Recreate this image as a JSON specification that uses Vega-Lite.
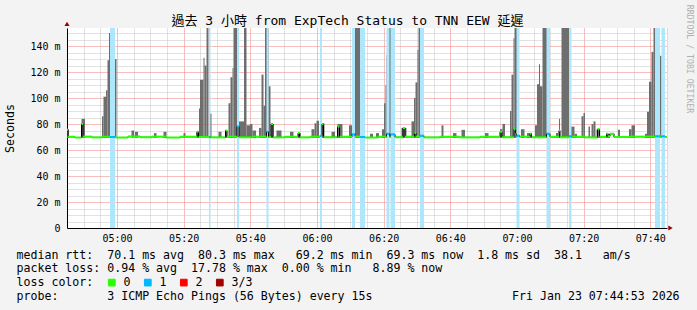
{
  "$schema": "https://vega.github.io/schema/vega-lite/v6.json",
  "width": 600,
  "height": 200,
  "autosize": {"type": "none"},
  "padding": {"left": 67, "top": 28, "right": 30, "bottom": 82},
  "background": "#f3f3f3",
  "config": {"view": {"fill": "#ffffff", "stroke": null}, "font": "DejaVu Sans Mono"},
  "title": {
    "text": "過去 3 小時 from ExpTech Status to TNN EEW 延遲",
    "font": "DejaVu Sans Mono, Noto Sans CJK TC",
    "fontSize": 13,
    "fontWeight": "normal",
    "color": "#000000",
    "anchor": "middle",
    "dx": -19.5,
    "dy": 27,
    "offset": 3
  },
  "datasets": {
    "bands": [
      {"t0": "2026-01-23T04:57:54", "t1": "2026-01-23T04:59:24"},
      {"t0": "2026-01-23T05:27:36", "t1": "2026-01-23T05:28:03"},
      {"t0": "2026-01-23T05:36:00", "t1": "2026-01-23T05:36:36"},
      {"t0": "2026-01-23T05:44:51", "t1": "2026-01-23T05:45:27"},
      {"t0": "2026-01-23T06:00:54", "t1": "2026-01-23T06:01:30"},
      {"t0": "2026-01-23T06:10:30", "t1": "2026-01-23T06:11:24"},
      {"t0": "2026-01-23T06:12:54", "t1": "2026-01-23T06:14:24"},
      {"t0": "2026-01-23T06:20:51", "t1": "2026-01-23T06:21:45"},
      {"t0": "2026-01-23T06:22:03", "t1": "2026-01-23T06:23:24"},
      {"t0": "2026-01-23T06:30:54", "t1": "2026-01-23T06:32:06"},
      {"t0": "2026-01-23T06:59:51", "t1": "2026-01-23T07:00:45"},
      {"t0": "2026-01-23T07:08:51", "t1": "2026-01-23T07:09:54"},
      {"t0": "2026-01-23T07:15:36", "t1": "2026-01-23T07:16:21"},
      {"t0": "2026-01-23T07:41:24", "t1": "2026-01-23T07:42:54"},
      {"t0": "2026-01-23T07:43:21", "t1": "2026-01-23T07:44:24"}
    ],
    "smoke": [
      {"t0": "2026-01-23T04:45:00", "t1": "2026-01-23T04:45:36", "lo": 69.3, "hi": 76},
      {"t0": "2026-01-23T04:49:21", "t1": "2026-01-23T04:50:24", "lo": 69.3, "hi": 84},
      {"t0": "2026-01-23T04:55:30", "t1": "2026-01-23T04:55:57", "lo": 69.3, "hi": 86},
      {"t0": "2026-01-23T04:55:57", "t1": "2026-01-23T04:56:42", "lo": 69.3, "hi": 101},
      {"t0": "2026-01-23T04:56:42", "t1": "2026-01-23T04:57:09", "lo": 69.3, "hi": 106},
      {"t0": "2026-01-23T04:57:09", "t1": "2026-01-23T04:57:36", "lo": 69.3, "hi": 129},
      {"t0": "2026-01-23T04:57:36", "t1": "2026-01-23T04:57:54", "lo": 69.3, "hi": 150},
      {"t0": "2026-01-23T04:57:54", "t1": "2026-01-23T04:59:15", "lo": 69.3, "hi": 160},
      {"t0": "2026-01-23T04:59:15", "t1": "2026-01-23T04:59:51", "lo": 69.3, "hi": 130},
      {"t0": "2026-01-23T05:04:21", "t1": "2026-01-23T05:05:06", "lo": 69.3, "hi": 75},
      {"t0": "2026-01-23T05:05:24", "t1": "2026-01-23T05:06:18", "lo": 69.3, "hi": 74},
      {"t0": "2026-01-23T05:11:06", "t1": "2026-01-23T05:11:51", "lo": 69.3, "hi": 73},
      {"t0": "2026-01-23T05:13:57", "t1": "2026-01-23T05:14:51", "lo": 69.3, "hi": 74},
      {"t0": "2026-01-23T05:19:57", "t1": "2026-01-23T05:20:33", "lo": 69.3, "hi": 73},
      {"t0": "2026-01-23T05:23:51", "t1": "2026-01-23T05:24:27", "lo": 69.3, "hi": 74},
      {"t0": "2026-01-23T05:24:36", "t1": "2026-01-23T05:24:54", "lo": 69.3, "hi": 92},
      {"t0": "2026-01-23T05:24:54", "t1": "2026-01-23T05:25:57", "lo": 69.3, "hi": 114},
      {"t0": "2026-01-23T05:25:57", "t1": "2026-01-23T05:26:15", "lo": 69.3, "hi": 131},
      {"t0": "2026-01-23T05:26:15", "t1": "2026-01-23T05:26:51", "lo": 69.3, "hi": 125},
      {"t0": "2026-01-23T05:26:51", "t1": "2026-01-23T05:27:27", "lo": 69.3, "hi": 160},
      {"t0": "2026-01-23T05:27:45", "t1": "2026-01-23T05:28:21", "lo": 69.3, "hi": 88},
      {"t0": "2026-01-23T05:30:27", "t1": "2026-01-23T05:31:21", "lo": 69.3, "hi": 74},
      {"t0": "2026-01-23T05:32:24", "t1": "2026-01-23T05:33:00", "lo": 69.3, "hi": 75},
      {"t0": "2026-01-23T05:33:27", "t1": "2026-01-23T05:34:03", "lo": 69.3, "hi": 96},
      {"t0": "2026-01-23T05:34:03", "t1": "2026-01-23T05:34:39", "lo": 69.3, "hi": 116},
      {"t0": "2026-01-23T05:34:39", "t1": "2026-01-23T05:34:57", "lo": 69.3, "hi": 123},
      {"t0": "2026-01-23T05:34:57", "t1": "2026-01-23T05:36:36", "lo": 69.3, "hi": 160},
      {"t0": "2026-01-23T05:36:36", "t1": "2026-01-23T05:38:06", "lo": 69.3, "hi": 82},
      {"t0": "2026-01-23T05:38:06", "t1": "2026-01-23T05:38:51", "lo": 69.3, "hi": 160},
      {"t0": "2026-01-23T05:38:51", "t1": "2026-01-23T05:39:54", "lo": 69.3, "hi": 79},
      {"t0": "2026-01-23T05:39:54", "t1": "2026-01-23T05:40:39", "lo": 69.3, "hi": 80},
      {"t0": "2026-01-23T05:40:39", "t1": "2026-01-23T05:41:42", "lo": 69.3, "hi": 75},
      {"t0": "2026-01-23T05:42:36", "t1": "2026-01-23T05:43:21", "lo": 69.3, "hi": 77},
      {"t0": "2026-01-23T05:43:21", "t1": "2026-01-23T05:43:57", "lo": 69.3, "hi": 118},
      {"t0": "2026-01-23T05:43:57", "t1": "2026-01-23T05:44:24", "lo": 69.3, "hi": 94},
      {"t0": "2026-01-23T05:44:24", "t1": "2026-01-23T05:45:27", "lo": 69.3, "hi": 160},
      {"t0": "2026-01-23T05:45:27", "t1": "2026-01-23T05:46:03", "lo": 69.3, "hi": 109},
      {"t0": "2026-01-23T05:46:12", "t1": "2026-01-23T05:46:57", "lo": 69.3, "hi": 80},
      {"t0": "2026-01-23T05:47:51", "t1": "2026-01-23T05:49:21", "lo": 69.3, "hi": 75},
      {"t0": "2026-01-23T05:51:54", "t1": "2026-01-23T05:52:57", "lo": 69.3, "hi": 74},
      {"t0": "2026-01-23T05:54:18", "t1": "2026-01-23T05:55:12", "lo": 69.3, "hi": 73},
      {"t0": "2026-01-23T05:58:21", "t1": "2026-01-23T05:59:15", "lo": 69.3, "hi": 76},
      {"t0": "2026-01-23T05:59:15", "t1": "2026-01-23T05:59:51", "lo": 69.3, "hi": 80.5},
      {"t0": "2026-01-23T05:59:51", "t1": "2026-01-23T06:00:36", "lo": 69.3, "hi": 82.5},
      {"t0": "2026-01-23T06:01:21", "t1": "2026-01-23T06:02:15", "lo": 69.3, "hi": 80.5},
      {"t0": "2026-01-23T06:04:21", "t1": "2026-01-23T06:05:24", "lo": 69.3, "hi": 74},
      {"t0": "2026-01-23T06:06:09", "t1": "2026-01-23T06:07:39", "lo": 69.3, "hi": 80},
      {"t0": "2026-01-23T06:09:36", "t1": "2026-01-23T06:10:30", "lo": 69.3, "hi": 79},
      {"t0": "2026-01-23T06:10:48", "t1": "2026-01-23T06:12:54", "lo": 69.3, "hi": 160},
      {"t0": "2026-01-23T06:12:54", "t1": "2026-01-23T06:13:30", "lo": 69.3, "hi": 120},
      {"t0": "2026-01-23T06:15:54", "t1": "2026-01-23T06:16:48", "lo": 69.3, "hi": 72.5},
      {"t0": "2026-01-23T06:17:42", "t1": "2026-01-23T06:18:36", "lo": 69.3, "hi": 73},
      {"t0": "2026-01-23T06:19:30", "t1": "2026-01-23T06:20:06", "lo": 69.3, "hi": 76},
      {"t0": "2026-01-23T06:20:06", "t1": "2026-01-23T06:20:33", "lo": 69.3, "hi": 96},
      {"t0": "2026-01-23T06:20:33", "t1": "2026-01-23T06:20:51", "lo": 69.3, "hi": 110},
      {"t0": "2026-01-23T06:20:51", "t1": "2026-01-23T06:21:09", "lo": 69.3, "hi": 133},
      {"t0": "2026-01-23T06:21:09", "t1": "2026-01-23T06:22:12", "lo": 69.3, "hi": 160},
      {"t0": "2026-01-23T06:22:12", "t1": "2026-01-23T06:22:48", "lo": 69.3, "hi": 128},
      {"t0": "2026-01-23T06:25:21", "t1": "2026-01-23T06:26:51", "lo": 69.3, "hi": 77},
      {"t0": "2026-01-23T06:28:21", "t1": "2026-01-23T06:29:06", "lo": 69.3, "hi": 82},
      {"t0": "2026-01-23T06:29:06", "t1": "2026-01-23T06:29:33", "lo": 69.3, "hi": 100},
      {"t0": "2026-01-23T06:29:33", "t1": "2026-01-23T06:30:09", "lo": 69.3, "hi": 112},
      {"t0": "2026-01-23T06:30:09", "t1": "2026-01-23T06:30:27", "lo": 69.3, "hi": 137},
      {"t0": "2026-01-23T06:30:27", "t1": "2026-01-23T06:31:03", "lo": 69.3, "hi": 160},
      {"t0": "2026-01-23T06:31:03", "t1": "2026-01-23T06:31:21", "lo": 69.3, "hi": 137},
      {"t0": "2026-01-23T06:37:21", "t1": "2026-01-23T06:37:57", "lo": 69.3, "hi": 79},
      {"t0": "2026-01-23T06:40:48", "t1": "2026-01-23T06:41:51", "lo": 69.3, "hi": 73},
      {"t0": "2026-01-23T06:43:21", "t1": "2026-01-23T06:44:24", "lo": 69.3, "hi": 75.5},
      {"t0": "2026-01-23T06:50:24", "t1": "2026-01-23T06:51:27", "lo": 69.3, "hi": 73},
      {"t0": "2026-01-23T06:54:54", "t1": "2026-01-23T06:55:39", "lo": 69.3, "hi": 76},
      {"t0": "2026-01-23T06:55:39", "t1": "2026-01-23T06:56:24", "lo": 69.3, "hi": 80},
      {"t0": "2026-01-23T06:57:54", "t1": "2026-01-23T06:58:21", "lo": 69.3, "hi": 90},
      {"t0": "2026-01-23T06:58:21", "t1": "2026-01-23T06:58:57", "lo": 69.3, "hi": 118},
      {"t0": "2026-01-23T06:58:57", "t1": "2026-01-23T06:59:15", "lo": 69.3, "hi": 146},
      {"t0": "2026-01-23T06:59:15", "t1": "2026-01-23T07:00:27", "lo": 69.3, "hi": 160},
      {"t0": "2026-01-23T07:01:12", "t1": "2026-01-23T07:02:15", "lo": 69.3, "hi": 76},
      {"t0": "2026-01-23T07:03:00", "t1": "2026-01-23T07:04:30", "lo": 69.3, "hi": 73},
      {"t0": "2026-01-23T07:05:24", "t1": "2026-01-23T07:06:00", "lo": 69.3, "hi": 79},
      {"t0": "2026-01-23T07:06:00", "t1": "2026-01-23T07:06:36", "lo": 69.3, "hi": 110.5},
      {"t0": "2026-01-23T07:06:36", "t1": "2026-01-23T07:06:54", "lo": 69.3, "hi": 126},
      {"t0": "2026-01-23T07:06:54", "t1": "2026-01-23T07:07:39", "lo": 69.3, "hi": 109},
      {"t0": "2026-01-23T07:07:39", "t1": "2026-01-23T07:09:54", "lo": 69.3, "hi": 160},
      {"t0": "2026-01-23T07:11:42", "t1": "2026-01-23T07:12:18", "lo": 69.3, "hi": 73},
      {"t0": "2026-01-23T07:12:36", "t1": "2026-01-23T07:12:54", "lo": 69.3, "hi": 84},
      {"t0": "2026-01-23T07:13:21", "t1": "2026-01-23T07:15:54", "lo": 69.3, "hi": 160},
      {"t0": "2026-01-23T07:15:54", "t1": "2026-01-23T07:17:15", "lo": 69.3, "hi": 78},
      {"t0": "2026-01-23T07:17:15", "t1": "2026-01-23T07:18:00", "lo": 69.3, "hi": 72.5},
      {"t0": "2026-01-23T07:19:21", "t1": "2026-01-23T07:19:57", "lo": 69.3, "hi": 86},
      {"t0": "2026-01-23T07:19:57", "t1": "2026-01-23T07:20:24", "lo": 69.3, "hi": 88.5},
      {"t0": "2026-01-23T07:21:27", "t1": "2026-01-23T07:21:54", "lo": 69.3, "hi": 78},
      {"t0": "2026-01-23T07:22:21", "t1": "2026-01-23T07:22:57", "lo": 69.3, "hi": 80},
      {"t0": "2026-01-23T07:22:57", "t1": "2026-01-23T07:23:33", "lo": 69.3, "hi": 82},
      {"t0": "2026-01-23T07:23:51", "t1": "2026-01-23T07:24:54", "lo": 69.3, "hi": 76},
      {"t0": "2026-01-23T07:26:42", "t1": "2026-01-23T07:27:54", "lo": 69.3, "hi": 72.5},
      {"t0": "2026-01-23T07:30:18", "t1": "2026-01-23T07:30:54", "lo": 69.3, "hi": 75.5},
      {"t0": "2026-01-23T07:33:36", "t1": "2026-01-23T07:34:21", "lo": 69.3, "hi": 76},
      {"t0": "2026-01-23T07:34:21", "t1": "2026-01-23T07:35:24", "lo": 69.3, "hi": 79},
      {"t0": "2026-01-23T07:38:24", "t1": "2026-01-23T07:39:00", "lo": 69.3, "hi": 72.5},
      {"t0": "2026-01-23T07:39:00", "t1": "2026-01-23T07:39:36", "lo": 69.3, "hi": 89.5},
      {"t0": "2026-01-23T07:39:36", "t1": "2026-01-23T07:40:21", "lo": 69.3, "hi": 112.5},
      {"t0": "2026-01-23T07:40:21", "t1": "2026-01-23T07:40:57", "lo": 69.3, "hi": 135.5},
      {"t0": "2026-01-23T07:40:57", "t1": "2026-01-23T07:42:54", "lo": 69.3, "hi": 160},
      {"t0": "2026-01-23T07:42:54", "t1": "2026-01-23T07:43:21", "lo": 69.3, "hi": 132.5}
    ],
    "median": [
      {"t0": "2026-01-23T04:45:00", "t1": "2026-01-23T04:45:18", "v": 75.5, "loss": "0"},
      {"t0": "2026-01-23T04:45:18", "t1": "2026-01-23T04:47:24", "v": 70.2, "loss": "0"},
      {"t0": "2026-01-23T04:47:24", "t1": "2026-01-23T04:49:21", "v": 69.6, "loss": "0"},
      {"t0": "2026-01-23T04:49:21", "t1": "2026-01-23T04:49:48", "v": 80, "loss": "0"},
      {"t0": "2026-01-23T04:49:48", "t1": "2026-01-23T04:52:30", "v": 70.3, "loss": "0"},
      {"t0": "2026-01-23T04:52:30", "t1": "2026-01-23T04:55:30", "v": 69.7, "loss": "0"},
      {"t0": "2026-01-23T04:55:30", "t1": "2026-01-23T04:57:54", "v": 70.2, "loss": "0"},
      {"t0": "2026-01-23T04:57:54", "t1": "2026-01-23T04:59:24", "v": 70.0, "loss": "1"},
      {"t0": "2026-01-23T04:59:24", "t1": "2026-01-23T05:03:18", "v": 69.6, "loss": "0"},
      {"t0": "2026-01-23T05:03:18", "t1": "2026-01-23T05:06:54", "v": 70.4, "loss": "0"},
      {"t0": "2026-01-23T05:06:54", "t1": "2026-01-23T05:10:30", "v": 69.8, "loss": "0"},
      {"t0": "2026-01-23T05:10:30", "t1": "2026-01-23T05:14:42", "v": 70.3, "loss": "0"},
      {"t0": "2026-01-23T05:14:42", "t1": "2026-01-23T05:18:54", "v": 69.6, "loss": "0"},
      {"t0": "2026-01-23T05:18:54", "t1": "2026-01-23T05:24:00", "v": 70.2, "loss": "0"},
      {"t0": "2026-01-23T05:24:00", "t1": "2026-01-23T05:24:27", "v": 74, "loss": "0"},
      {"t0": "2026-01-23T05:24:27", "t1": "2026-01-23T05:27:36", "v": 70.0, "loss": "0"},
      {"t0": "2026-01-23T05:27:36", "t1": "2026-01-23T05:28:03", "v": 70.0, "loss": "1"},
      {"t0": "2026-01-23T05:28:03", "t1": "2026-01-23T05:32:33", "v": 69.7, "loss": "0"},
      {"t0": "2026-01-23T05:32:33", "t1": "2026-01-23T05:33:00", "v": 75, "loss": "0"},
      {"t0": "2026-01-23T05:33:00", "t1": "2026-01-23T05:36:00", "v": 70.2, "loss": "0"},
      {"t0": "2026-01-23T05:36:00", "t1": "2026-01-23T05:36:36", "v": 78, "loss": "1"},
      {"t0": "2026-01-23T05:36:36", "t1": "2026-01-23T05:40:30", "v": 69.8, "loss": "0"},
      {"t0": "2026-01-23T05:40:30", "t1": "2026-01-23T05:44:51", "v": 70.3, "loss": "0"},
      {"t0": "2026-01-23T05:44:51", "t1": "2026-01-23T05:45:27", "v": 74, "loss": "1"},
      {"t0": "2026-01-23T05:45:27", "t1": "2026-01-23T05:46:12", "v": 70.0, "loss": "0"},
      {"t0": "2026-01-23T05:46:12", "t1": "2026-01-23T05:46:48", "v": 80, "loss": "0"},
      {"t0": "2026-01-23T05:46:48", "t1": "2026-01-23T05:50:24", "v": 69.7, "loss": "0"},
      {"t0": "2026-01-23T05:50:24", "t1": "2026-01-23T05:54:18", "v": 70.2, "loss": "0"},
      {"t0": "2026-01-23T05:54:18", "t1": "2026-01-23T05:54:45", "v": 73, "loss": "0"},
      {"t0": "2026-01-23T05:54:45", "t1": "2026-01-23T05:57:54", "v": 69.7, "loss": "0"},
      {"t0": "2026-01-23T05:57:54", "t1": "2026-01-23T06:00:54", "v": 70.2, "loss": "0"},
      {"t0": "2026-01-23T06:00:54", "t1": "2026-01-23T06:01:30", "v": 71, "loss": "1"},
      {"t0": "2026-01-23T06:01:30", "t1": "2026-01-23T06:01:57", "v": 80, "loss": "0"},
      {"t0": "2026-01-23T06:01:57", "t1": "2026-01-23T06:06:09", "v": 69.8, "loss": "0"},
      {"t0": "2026-01-23T06:06:09", "t1": "2026-01-23T06:06:45", "v": 78, "loss": "0"},
      {"t0": "2026-01-23T06:06:45", "t1": "2026-01-23T06:10:30", "v": 70.2, "loss": "0"},
      {"t0": "2026-01-23T06:10:30", "t1": "2026-01-23T06:11:24", "v": 72, "loss": "1"},
      {"t0": "2026-01-23T06:11:24", "t1": "2026-01-23T06:12:54", "v": 70.4, "loss": "0"},
      {"t0": "2026-01-23T06:12:54", "t1": "2026-01-23T06:14:24", "v": 70.0, "loss": "1"},
      {"t0": "2026-01-23T06:14:24", "t1": "2026-01-23T06:18:18", "v": 69.6, "loss": "0"},
      {"t0": "2026-01-23T06:18:18", "t1": "2026-01-23T06:20:51", "v": 70.2, "loss": "0"},
      {"t0": "2026-01-23T06:20:51", "t1": "2026-01-23T06:21:45", "v": 72.5, "loss": "1"},
      {"t0": "2026-01-23T06:21:45", "t1": "2026-01-23T06:22:03", "v": 70.5, "loss": "0"},
      {"t0": "2026-01-23T06:22:03", "t1": "2026-01-23T06:23:24", "v": 72, "loss": "1"},
      {"t0": "2026-01-23T06:23:24", "t1": "2026-01-23T06:25:48", "v": 69.8, "loss": "0"},
      {"t0": "2026-01-23T06:25:48", "t1": "2026-01-23T06:26:24", "v": 77, "loss": "0"},
      {"t0": "2026-01-23T06:26:24", "t1": "2026-01-23T06:29:15", "v": 70.2, "loss": "0"},
      {"t0": "2026-01-23T06:29:15", "t1": "2026-01-23T06:29:42", "v": 73, "loss": "0"},
      {"t0": "2026-01-23T06:29:42", "t1": "2026-01-23T06:30:54", "v": 70.3, "loss": "0"},
      {"t0": "2026-01-23T06:30:54", "t1": "2026-01-23T06:32:06", "v": 71, "loss": "1"},
      {"t0": "2026-01-23T06:32:06", "t1": "2026-01-23T06:36:54", "v": 69.7, "loss": "0"},
      {"t0": "2026-01-23T06:36:54", "t1": "2026-01-23T06:42:54", "v": 70.2, "loss": "0"},
      {"t0": "2026-01-23T06:42:54", "t1": "2026-01-23T06:48:54", "v": 69.7, "loss": "0"},
      {"t0": "2026-01-23T06:48:54", "t1": "2026-01-23T06:54:54", "v": 70.2, "loss": "0"},
      {"t0": "2026-01-23T06:54:54", "t1": "2026-01-23T06:55:30", "v": 74, "loss": "0"},
      {"t0": "2026-01-23T06:55:30", "t1": "2026-01-23T06:59:06", "v": 69.8, "loss": "0"},
      {"t0": "2026-01-23T06:59:06", "t1": "2026-01-23T06:59:33", "v": 76, "loss": "0"},
      {"t0": "2026-01-23T06:59:33", "t1": "2026-01-23T06:59:51", "v": 72.5, "loss": "0"},
      {"t0": "2026-01-23T06:59:51", "t1": "2026-01-23T07:00:45", "v": 71, "loss": "1"},
      {"t0": "2026-01-23T07:00:45", "t1": "2026-01-23T07:03:54", "v": 70.3, "loss": "0"},
      {"t0": "2026-01-23T07:03:54", "t1": "2026-01-23T07:04:21", "v": 72.5, "loss": "0"},
      {"t0": "2026-01-23T07:04:21", "t1": "2026-01-23T07:08:51", "v": 69.8, "loss": "0"},
      {"t0": "2026-01-23T07:08:51", "t1": "2026-01-23T07:09:54", "v": 72.5, "loss": "1"},
      {"t0": "2026-01-23T07:09:54", "t1": "2026-01-23T07:12:36", "v": 70.2, "loss": "0"},
      {"t0": "2026-01-23T07:12:36", "t1": "2026-01-23T07:12:54", "v": 75, "loss": "0"},
      {"t0": "2026-01-23T07:12:54", "t1": "2026-01-23T07:15:36", "v": 69.8, "loss": "0"},
      {"t0": "2026-01-23T07:15:36", "t1": "2026-01-23T07:16:21", "v": 70.5, "loss": "1"},
      {"t0": "2026-01-23T07:16:21", "t1": "2026-01-23T07:20:24", "v": 70.2, "loss": "0"},
      {"t0": "2026-01-23T07:20:24", "t1": "2026-01-23T07:24:09", "v": 69.7, "loss": "0"},
      {"t0": "2026-01-23T07:24:09", "t1": "2026-01-23T07:24:45", "v": 76, "loss": "0"},
      {"t0": "2026-01-23T07:24:45", "t1": "2026-01-23T07:26:51", "v": 70.2, "loss": "0"},
      {"t0": "2026-01-23T07:26:51", "t1": "2026-01-23T07:27:18", "v": 72.5, "loss": "0"},
      {"t0": "2026-01-23T07:27:18", "t1": "2026-01-23T07:27:54", "v": 70.5, "loss": "0"},
      {"t0": "2026-01-23T07:27:54", "t1": "2026-01-23T07:29:06", "v": 72.5, "loss": "0"},
      {"t0": "2026-01-23T07:29:06", "t1": "2026-01-23T07:33:54", "v": 70.0, "loss": "0"},
      {"t0": "2026-01-23T07:33:54", "t1": "2026-01-23T07:41:24", "v": 70.3, "loss": "0"},
      {"t0": "2026-01-23T07:41:24", "t1": "2026-01-23T07:42:54", "v": 70.5, "loss": "1"},
      {"t0": "2026-01-23T07:42:54", "t1": "2026-01-23T07:43:21", "v": 70.3, "loss": "0"},
      {"t0": "2026-01-23T07:43:21", "t1": "2026-01-23T07:44:24", "v": 70.5, "loss": "1"},
      {"t0": "2026-01-23T07:44:24", "t1": "2026-01-23T07:45:00", "v": 70.0, "loss": "0"}
    ]
  },
  "layer": [
    {
      "data": {"name": "smoke"},
      "mark": {"type": "rect", "color": "#6e6e6e", "clip": true},
      "encoding": {
        "x": {
          "field": "t0",
          "type": "temporal",
          "scale": {
            "domain": [
              {"year": 2026, "month": 1, "date": 23, "hours": 4, "minutes": 45},
              {"year": 2026, "month": 1, "date": 23, "hours": 7, "minutes": 45}
            ],
            "nice": false
          },
          "axis": {
            "orient": "bottom",
            "values": [
              {"year": 2026, "month": 1, "date": 23, "hours": 4, "minutes": 45},
              {"year": 2026, "month": 1, "date": 23, "hours": 4, "minutes": 50},
              {"year": 2026, "month": 1, "date": 23, "hours": 4, "minutes": 55},
              {"year": 2026, "month": 1, "date": 23, "hours": 5, "minutes": 0},
              {"year": 2026, "month": 1, "date": 23, "hours": 5, "minutes": 5},
              {"year": 2026, "month": 1, "date": 23, "hours": 5, "minutes": 10},
              {"year": 2026, "month": 1, "date": 23, "hours": 5, "minutes": 15},
              {"year": 2026, "month": 1, "date": 23, "hours": 5, "minutes": 20},
              {"year": 2026, "month": 1, "date": 23, "hours": 5, "minutes": 25},
              {"year": 2026, "month": 1, "date": 23, "hours": 5, "minutes": 30},
              {"year": 2026, "month": 1, "date": 23, "hours": 5, "minutes": 35},
              {"year": 2026, "month": 1, "date": 23, "hours": 5, "minutes": 40},
              {"year": 2026, "month": 1, "date": 23, "hours": 5, "minutes": 45},
              {"year": 2026, "month": 1, "date": 23, "hours": 5, "minutes": 50},
              {"year": 2026, "month": 1, "date": 23, "hours": 5, "minutes": 55},
              {"year": 2026, "month": 1, "date": 23, "hours": 6, "minutes": 0},
              {"year": 2026, "month": 1, "date": 23, "hours": 6, "minutes": 5},
              {"year": 2026, "month": 1, "date": 23, "hours": 6, "minutes": 10},
              {"year": 2026, "month": 1, "date": 23, "hours": 6, "minutes": 15},
              {"year": 2026, "month": 1, "date": 23, "hours": 6, "minutes": 20},
              {"year": 2026, "month": 1, "date": 23, "hours": 6, "minutes": 25},
              {"year": 2026, "month": 1, "date": 23, "hours": 6, "minutes": 30},
              {"year": 2026, "month": 1, "date": 23, "hours": 6, "minutes": 35},
              {"year": 2026, "month": 1, "date": 23, "hours": 6, "minutes": 40},
              {"year": 2026, "month": 1, "date": 23, "hours": 6, "minutes": 45},
              {"year": 2026, "month": 1, "date": 23, "hours": 6, "minutes": 50},
              {"year": 2026, "month": 1, "date": 23, "hours": 6, "minutes": 55},
              {"year": 2026, "month": 1, "date": 23, "hours": 7, "minutes": 0},
              {"year": 2026, "month": 1, "date": 23, "hours": 7, "minutes": 5},
              {"year": 2026, "month": 1, "date": 23, "hours": 7, "minutes": 10},
              {"year": 2026, "month": 1, "date": 23, "hours": 7, "minutes": 15},
              {"year": 2026, "month": 1, "date": 23, "hours": 7, "minutes": 20},
              {"year": 2026, "month": 1, "date": 23, "hours": 7, "minutes": 25},
              {"year": 2026, "month": 1, "date": 23, "hours": 7, "minutes": 30},
              {"year": 2026, "month": 1, "date": 23, "hours": 7, "minutes": 35},
              {"year": 2026, "month": 1, "date": 23, "hours": 7, "minutes": 40},
              {"year": 2026, "month": 1, "date": 23, "hours": 7, "minutes": 45}
            ],
            "grid": true,
            "gridColor": {"condition": {"test": "minutes(datum.value) % 20 === 0", "value": "#f07d7d"}, "value": "#c4c4c4"},
            "gridDash": [1, 1],
            "ticks": false,
            "domainColor": "#000000",
            "labelExpr": "minutes(datum.value) % 20 === 0 ? timeFormat(datum.value, '%H:%M') : ''",
            "labelFont": "DejaVu Sans Mono",
            "labelFontSize": 10,
            "labelColor": "#000000",
            "labelPadding": 5,
            "labelOverlap": false,
            "labelFlush": false,
            "title": null
          }
        },
        "x2": {"field": "t1"},
        "y": {
          "field": "lo",
          "type": "quantitative",
          "scale": {"domain": [0, 153.85], "nice": false, "zero": true},
          "axis": {
            "orient": "left",
            "values": [0, 5, 10, 15, 20, 25, 30, 35, 40, 45, 50, 55, 60, 65, 70, 75, 80, 85, 90, 95, 100, 105, 110, 115, 120, 125, 130, 135, 140, 145, 150],
            "grid": true,
            "gridColor": {"condition": {"test": "datum.value % 20 === 0", "value": "#f07d7d"}, "value": "#c4c4c4"},
            "gridDash": [1, 1],
            "ticks": false,
            "domainColor": "#000000",
            "labelExpr": "datum.value % 20 === 0 ? (datum.value === 0 ? '0' : datum.value + ' m') : ''",
            "labelFont": "DejaVu Sans Mono",
            "labelFontSize": 10,
            "labelColor": "#000000",
            "labelPadding": 7,
            "labelOverlap": false,
            "labelFlush": false,
            "title": "Seconds",
            "titleFont": "DejaVu Sans Mono",
            "titleFontSize": 11.6,
            "titleFontWeight": "normal",
            "titleColor": "#000000",
            "titleAngle": 270,
            "titleAlign": "center",
            "titleBaseline": "middle",
            "titleX": -57,
            "titleY": 100
          }
        },
        "y2": {"field": "hi"}
      }
    },
    {
      "data": {"name": "bands"},
      "mark": {"type": "rect", "color": "#aee6fb"},
      "encoding": {
        "x": {
          "field": "t0",
          "type": "temporal",
          "axis": {
            "orient": "bottom",
            "domain": false,
            "ticks": false,
            "labels": false,
            "grid": false,
            "title": [
              "median rtt:\u00a0\u00a070.1 ms avg\u00a0\u00a080.3 ms max\u00a0\u00a0\u00a069.2 ms min\u00a0\u00a069.3 ms now\u00a0\u00a01.8 ms sd\u00a0\u00a038.1\u00a0\u00a0\u00a0am/s",
              "packet loss: 0.94 % avg\u00a0\u00a017.78 % max\u00a0\u00a00.00 % min\u00a0\u00a0\u00a08.89 % now",
              "loss color:",
              "probe:\u00a0\u00a0\u00a0\u00a0\u00a0\u00a0\u00a03 ICMP Echo Pings (56 Bytes) every 15s\u00a0\u00a0\u00a0\u00a0\u00a0\u00a0\u00a0\u00a0\u00a0\u00a0\u00a0\u00a0\u00a0\u00a0\u00a0\u00a0\u00a0\u00a0\u00a0\u00a0Fri Jan 23 07:44:53 2026"
            ],
            "titleFont": "DejaVu Sans Mono",
            "titleFontSize": 11.6,
            "titleFontWeight": "normal",
            "titleColor": "#000000",
            "titleAlign": "left",
            "titleAnchor": "start",
            "titleBaseline": "alphabetic",
            "titleX": -51,
            "titleY": 30,
            "titleLineHeight": 13.7
          }
        },
        "x2": {"field": "t1"},
        "y": {"datum": 0, "type": "quantitative", "axis": null},
        "y2": {"datum": 153.85}
      }
    },
    {
      "data": {"name": "median"},
      "mark": {"type": "line", "interpolate": "step-after", "color": "#000000", "strokeWidth": 1},
      "encoding": {
        "x": {"field": "t0", "type": "temporal", "axis": null},
        "y": {
          "field": "v",
          "type": "quantitative",
          "axis": {
            "orient": "right",
            "domain": false,
            "ticks": false,
            "labels": false,
            "grid": false,
            "title": "RRDTOOL / TOBI OETIKER",
            "titleFont": "DejaVu Sans Mono",
            "titleFontSize": 8.2,
            "titleFontWeight": "normal",
            "titleColor": "#b0b0b0",
            "titleAngle": 90,
            "titleAlign": "center",
            "titleBaseline": "middle",
            "titleX": 21,
            "titleY": 30.5
          }
        }
      }
    },
    {
      "data": {"name": "median"},
      "mark": {"type": "rule", "strokeWidth": 2, "strokeCap": "butt"},
      "encoding": {
        "x": {"field": "t0", "type": "temporal", "axis": null},
        "x2": {"field": "t1"},
        "y": {"field": "v", "type": "quantitative", "axis": null},
        "color": {
          "field": "loss",
          "type": "nominal",
          "scale": {"domain": ["0", "1", "2", "3/3"], "range": ["#26ff00", "#00b8ff", "#ff0000", "#a00000"]},
          "legend": {
            "orient": "none",
            "legendX": 39,
            "legendY": 248.5,
            "direction": "horizontal",
            "title": null,
            "symbolType": "square",
            "symbolSize": 45,
            "symbolStrokeColor": "#000000",
            "symbolStrokeWidth": 1,
            "labelFont": "DejaVu Sans Mono",
            "labelFontSize": 11.6,
            "labelColor": "#000000",
            "labelOffset": 6,
            "columnPadding": 11,
            "padding": 0,
            "encode": {
              "symbols": {
                "update": {
                  "fill": {"scale": "color", "field": "value"},
                  "stroke": {"value": "#000000"},
                  "opacity": {"value": 1},
                  "fillOpacity": {"value": 1}
                }
              }
            }
          }
        }
      }
    },
    {
      "data": {"values": [{}]},
      "mark": {"type": "point", "shape": "triangle-up", "filled": true, "color": "#990000", "size": 26, "opacity": 1},
      "encoding": {
        "x": {"datum": {"year": 2026, "month": 1, "date": 23, "hours": 4, "minutes": 45}, "type": "temporal", "axis": null},
        "y": {"datum": 157, "type": "quantitative", "axis": null}
      }
    },
    {
      "data": {"values": [{}]},
      "mark": {"type": "point", "shape": "triangle-right", "filled": true, "color": "#990000", "size": 26, "opacity": 1},
      "encoding": {
        "x": {"datum": {"year": 2026, "month": 1, "date": 23, "hours": 7, "minutes": 46, "seconds": 3}, "type": "temporal", "axis": null},
        "y": {"datum": 0, "type": "quantitative", "axis": null}
      }
    }
  ],
  "resolve": {"axis": {"x": "independent", "y": "independent"}}
}
